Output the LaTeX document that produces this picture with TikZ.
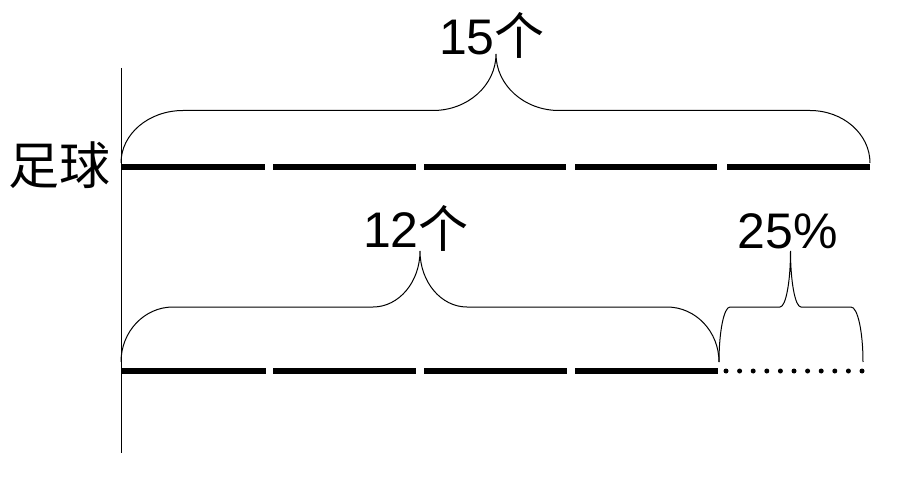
\documentclass[tikz,border=0pt]{standalone}
\usepackage{fontspec}
\setmainfont{Liberation Sans}
\newfontfamily\cjkfont{Noto Sans CJK SC}
\usepackage{tikz}
\usetikzlibrary{positioning}
\tikzset{
    bar/.style={line width=6pt},
    brace/.style={draw, line width=1pt},
    lbl/.style={inner sep=0pt, anchor=base, font=\fontsize{50}{60}\selectfont},
    dot/.style={fill, circle, inner sep=0pt, minimum size=5pt}
}

\begin{document}
\begin{tikzpicture}[x=1pt,y=1pt]
    \useasboundingbox (0,0) rectangle (900,483);
    % axis
    \coordinate (ax0) at (121,415);
    \coordinate (ax1) at (121,30);
    \draw[line width=1pt] (ax0) -- (ax1);
    \node[inner sep=0pt, font=\fontsize{51}{60}\selectfont\cjkfont] (ball) at (60,318) {足球};
    % football: five parts
    \foreach \a/\b in {121/265, 273/416, 424/566, 575/717, 727/870}
        \draw[bar] (\a,316) -- (\b,316);
    % basketball: four parts, the last part dotted
    \foreach \a/\b in {121/266, 273/416, 424/567, 575/718}
        \draw[bar] (\a,112) -- (\b,112);
    \foreach \i in {0,...,10}
        \node[dot] (d\i) at (726+13.6*\i,112) {};
    % braces
    \draw[brace] (121,320) arc[start angle=180,end angle=90,x radius=62,y radius=52.5]
        -- (433,372.5) arc[start angle=270,end angle=360,x radius=63,y radius=56.5]
        arc[start angle=180,end angle=270,x radius=63,y radius=56.5]
        -- (810,372.5) arc[start angle=90,end angle=0,x radius=60,y radius=52.5];
    \draw[brace] (121,121) arc[start angle=180,end angle=90,x radius=52,y radius=55]
        -- (373,176) arc[start angle=270,end angle=360,x radius=47,y radius=56]
        arc[start angle=180,end angle=270,x radius=47,y radius=56]
        -- (667,176) arc[start angle=90,end angle=0,x radius=52,y radius=55];
    \draw[brace] (719,121) arc[start angle=180,end angle=90,x radius=11,y radius=55]
        -- (780,176) arc[start angle=270,end angle=360,x radius=10.5,y radius=56]
        arc[start angle=180,end angle=270,x radius=10.5,y radius=56]
        -- (851,176) arc[start angle=90,end angle=0,x radius=12,y radius=55];
    % labels
    \node[lbl] (all) at (492,428) {15{\cjkfont 个}};
    \node[lbl] (part) at (416,236) {12{\cjkfont 个}};
    \node[lbl] (pct) at (788,235) {25\%};
\end{tikzpicture}
\end{document}
